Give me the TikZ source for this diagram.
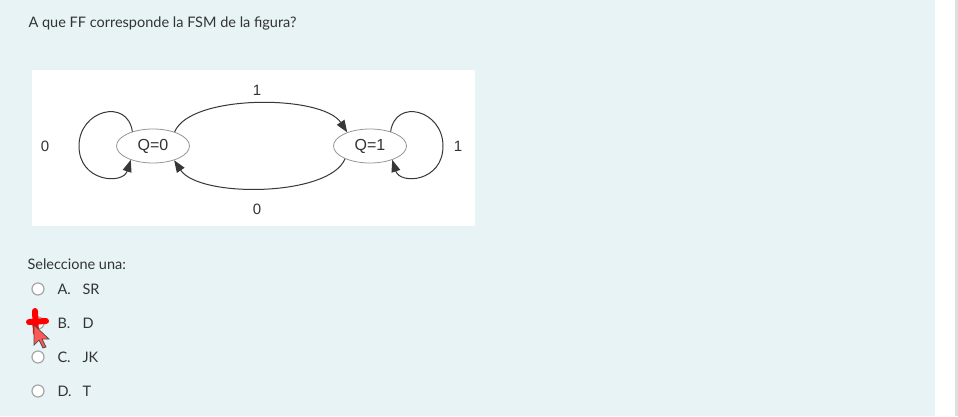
\documentclass[tikz,border=0pt]{standalone}
\usepackage{fontspec}
\setmainfont{Lato}
\newfontfamily\gvfont{Liberation Sans}
\usetikzlibrary{positioning,arrows.meta,shapes.geometric}
\definecolor{pagebg}{RGB}{231,243,245}
\definecolor{txtgray}{RGB}{51,51,51}
\definecolor{edgegray}{RGB}{55,55,55}
\definecolor{nodegray}{RGB}{150,150,150}
\tikzset{
  fsmstate/.style={ellipse,draw=nodegray,fill=white,line width=0.8pt,minimum width=73pt,minimum height=34pt,inner sep=0pt,font=\gvfont\fontsize{16}{16}\selectfont,text=black!80},
  edgelabel/.style={font=\gvfont\fontsize{15}{15}\selectfont,text=black!80},
  trans/.style={draw=edgegray,line width=1pt,-{Triangle[length=12pt,width=9pt]}},
  radio/.style={circle,draw=gray!70,fill=white,line width=1.2pt,minimum size=12pt,inner sep=0pt},
  opttext/.style={font=\fontsize{14.5}{14.5}\selectfont,text=txtgray,anchor=west}
}
\begin{document}
\begin{tikzpicture}[x=1pt,y=-1pt]
% page
\fill[pagebg] (0,0) rectangle (935,416);
\fill[white] (935,0) rectangle (955,416);
\fill[gray!25] (955,0) rectangle (958,416);
\useasboundingbox (0,0) rectangle (958,416);
\node (question) at (25,23) [opttext] {A que FF corresponde la FSM de la figura?};
% figure
\fill[white] (32,70) rectangle (475,226);
\node (q0) at (153,146) [fsmstate] {Q=0};
\node (q1) at (370,146) [fsmstate] {Q=1};
\coordinate (loopl) at (79,146);
\coordinate (loopr) at (443,146);
\node (lblzeroleft) at (45,146) [edgelabel] {0};
\node (lbloneright) at (458,146) [edgelabel] {1};
\node (lblonetop) at (257,90) [edgelabel] {1};
\node (lblzerobot) at (257,209) [edgelabel] {0};
\draw[trans] (q0.33) .. controls +(15,-38) and +(-25,-38) .. (q1.149);
\draw[trans] (q1.207) .. controls +(-15,38) and +(25,38) .. (q0.326);
\draw[trans] (q0.145) .. controls +(-5,-34) and +(0,-36) .. (loopl) .. controls +(0,36) and +(-8,25) .. (q0.212);
\draw[trans] (q1.35) .. controls +(5,-34) and +(0,-36) .. (loopr) .. controls +(0,36) and +(8,25) .. (q1.328);
% answers
\node (select) at (24,264) [opttext] {Seleccione una:};
\foreach \y/\l/\t/\n in {289/A./SR/a,323/B./D/b,357/C./JK/c,391/D./T/d} {
    \node (radio\n) at (38,\y) [radio] {};
    \node (letter\n) at (54,\y) [opttext] {\l};
    \node (answer\n) at (79,\y) [opttext] {\t};
}
% mark and cursor
\draw[red,line width=6pt,line cap=round] (35,311) -- (36,333);
\draw[red,line width=6pt,line cap=round] (29,322) -- (46,321);
\filldraw[fill=red!55!pink,draw=black!70,line width=0.7pt] (34,325) -- (34,345) -- (39,340) -- (43,348) -- (46,347) -- (42,339) -- (49,339) -- cycle;
\end{tikzpicture}
\end{document}
